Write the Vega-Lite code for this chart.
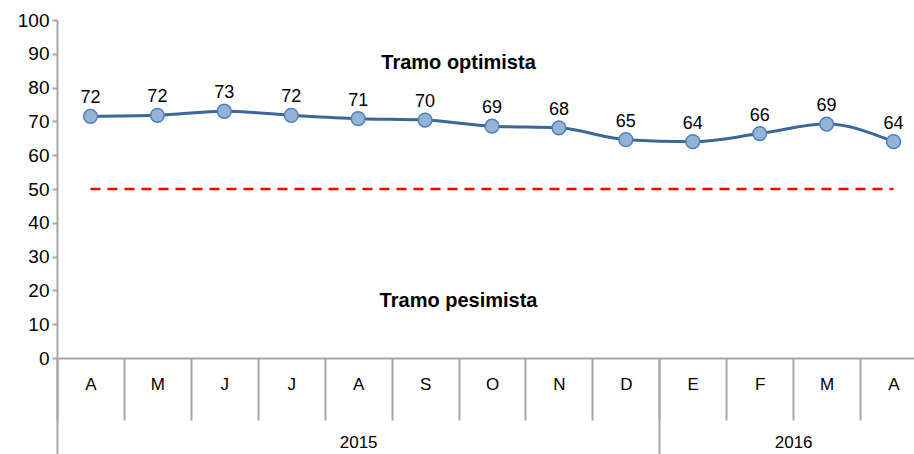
{
  "$schema": "https://vega.github.io/schema/vega-lite/v6.json",
  "width": 857,
  "height": 338,
  "autosize": {"type": "none"},
  "padding": {"left": 57, "top": 20, "right": 0, "bottom": 96},
  "config": {
    "font": "Liberation Sans",
    "view": {"stroke": null},
    "axis": {"labelFont": "Liberation Sans", "labelColor": "#000000", "grid": false}
  },
  "data": {
    "values": [
      {"periodo": "2015-04", "mes": "A", "anio": "2015", "n": 1, "indice": 71.5},
      {"periodo": "2015-05", "mes": "M", "anio": "2015", "n": 2, "indice": 71.8},
      {"periodo": "2015-06", "mes": "J", "anio": "2015", "n": 3, "indice": 73.0},
      {"periodo": "2015-07", "mes": "J", "anio": "2015", "n": 4, "indice": 71.8},
      {"periodo": "2015-08", "mes": "A", "anio": "2015", "n": 5, "indice": 70.8},
      {"periodo": "2015-09", "mes": "S", "anio": "2015", "n": 6, "indice": 70.4},
      {"periodo": "2015-10", "mes": "O", "anio": "2015", "n": 7, "indice": 68.6},
      {"periodo": "2015-11", "mes": "N", "anio": "2015", "n": 8, "indice": 68.1},
      {"periodo": "2015-12", "mes": "D", "anio": "2015", "n": 9, "indice": 64.6},
      {"periodo": "2016-01", "mes": "E", "anio": "2016", "n": 10, "indice": 64.0},
      {"periodo": "2016-02", "mes": "F", "anio": "2016", "n": 11, "indice": 66.4},
      {"periodo": "2016-03", "mes": "M", "anio": "2016", "n": 12, "indice": 69.2},
      {"periodo": "2016-04", "mes": "A", "anio": "2016", "n": 13, "indice": 64.0}
    ]
  },
  "resolve": {
    "scale": {"x": "independent", "y": "independent"},
    "axis": {"x": "independent", "y": "independent"}
  },
  "layer": [
    {
      "encoding": {
        "x": {
          "field": "periodo",
          "type": "ordinal",
          "title": null,
          "scale": {"type": "band", "paddingInner": 0, "paddingOuter": 0, "range": [0, 870]},
          "axis": {
            "orient": "bottom",
            "labelExpr": "['E','F','M','A','M','J','J','A','S','O','N','D'][toNumber(substring(datum.value,5,7))-1]",
            "labelAngle": 0,
            "tickBand": "extent",
            "tickSize": 62,
            "tickColor": "#A6A6A6",
            "tickWidth": 2,
            "domainColor": "#A6A6A6",
            "domainWidth": 2,
            "labelPadding": -44,
            "labelFontSize": 17,
            "title": null
          }
        }
      },
      "layer": [
        {
          "mark": {"type": "line", "color": "#FF0000", "strokeDash": [10, 7], "strokeWidth": 2.5},
          "encoding": {"y": {"datum": 50, "type": "quantitative", "title": null, "scale": {"domain": [0, 100], "nice": false}, "axis": null}}
        },
        {
          "mark": {"type": "line", "interpolate": "monotone", "color": "#3C6598", "strokeWidth": 3},
          "encoding": {"y": {"field": "indice", "type": "quantitative", "title": null, "axis": null}}
        },
        {
          "mark": {"type": "point", "filled": true, "fill": "#95B3D7", "stroke": "#4F81BD", "strokeWidth": 1.5, "size": 190, "opacity": 1},
          "encoding": {"y": {"field": "indice", "type": "quantitative", "title": null, "axis": null}}
        },
        {
          "mark": {"type": "text", "dy": -13, "fontSize": 18, "baseline": "alphabetic", "color": "#000000"},
          "encoding": {
            "y": {"field": "indice", "type": "quantitative", "title": null, "axis": null},
            "text": {"field": "indice", "type": "quantitative", "format": ".0f"}
          }
        },
        {
          "data": {"values": [{"tramo": "Tramo optimista"}]},
          "mark": {"type": "text", "fontSize": 20, "fontWeight": "bold", "align": "center", "baseline": "middle", "color": "#000000"},
          "encoding": {
            "x": {"datum": "2015-10", "type": "ordinal", "bandPosition": 0},
            "y": {"datum": 87.3, "type": "quantitative", "title": null, "axis": null},
            "text": {"field": "tramo"}
          }
        },
        {
          "data": {"values": [{"tramo": "Tramo pesimista"}]},
          "mark": {"type": "text", "fontSize": 20, "fontWeight": "bold", "align": "center", "baseline": "middle", "color": "#000000"},
          "encoding": {
            "x": {"datum": "2015-10", "type": "ordinal", "bandPosition": 0},
            "y": {"datum": 16.9, "type": "quantitative", "title": null, "axis": null},
            "text": {"field": "tramo"}
          }
        }
      ]
    },
    {
      "mark": {"type": "point", "opacity": 0},
      "encoding": {
        "y": {
          "field": "indice",
          "type": "quantitative",
          "title": null,
          "scale": {"domain": [0, 100], "nice": false},
          "axis": {
            "orient": "left",
            "values": [0, 10, 20, 30, 40, 50, 60, 70, 80, 90, 100],
            "labelOverlap": false,
            "tickSize": 5,
            "tickColor": "#A6A6A6",
            "tickWidth": 2,
            "domainColor": "#A6A6A6",
            "domainWidth": 2,
            "labelFontSize": 19,
            "labelPadding": 3,
            "title": null
          }
        }
      }
    },
    {
      "mark": {"type": "point", "opacity": 0},
      "encoding": {
        "x": {
          "field": "n",
          "type": "quantitative",
          "title": null,
          "scale": {"domain": [0.5, 13.5], "range": [0, 870], "nice": false, "zero": false},
          "axis": {
            "orient": "bottom",
            "values": [0.5, 9.5, 13.5],
            "labels": false,
            "domain": false,
            "tickSize": 96,
            "tickColor": "#A6A6A6",
            "tickWidth": 2,
            "title": null
          }
        }
      }
    },
    {
      "mark": {"type": "point", "opacity": 0},
      "encoding": {
        "x": {
          "field": "n",
          "type": "quantitative",
          "title": null,
          "scale": {"domain": [0.5, 13.5], "range": [0, 870], "nice": false, "zero": false},
          "axis": {
            "orient": "bottom",
            "values": [5, 11.5],
            "labelExpr": "datum.value < 9 ? '2015' : '2016'",
            "ticks": false,
            "domain": false,
            "labelPadding": 76,
            "labelFontSize": 17,
            "title": null
          }
        }
      }
    }
  ]
}
